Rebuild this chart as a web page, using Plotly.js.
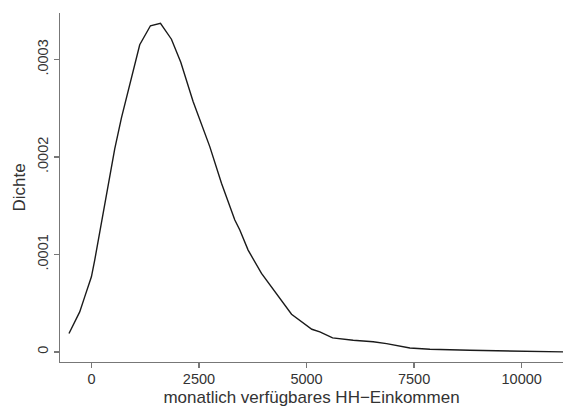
<!DOCTYPE html>
<html>
<head>
<meta charset="utf-8">
<script src="https://cdn.plot.ly/plotly-3.0.1.min.js"></script>
<style>html,body{margin:0;padding:0;background:#fff;}#chart{width:563px;height:407px;}</style>
</head>
<body>
<div id="chart"></div>
<script>
// monthly disposable household income (Euro) and kernel density
const income = [-521, -272, -156, 0, 77, 193, 286, 333, 502, 542, 698, 867, 1047, 1123, 1372, 1605, 1860, 2077, 2363, 2751, 3023, 3333, 3449, 3642, 3953, 4302, 4651, 5123, 5309, 5605, 6084, 6549, 6860, 7402, 7867, 8798, 9728, 11000];
const density = [0.0000189, 0.0000411, 0.0000565, 0.0000771, 0.0000942, 0.0001217, 0.0001456, 0.0001562, 0.000197, 0.0002083, 0.0002402, 0.00027, 0.0002998, 0.0003152, 0.0003347, 0.0003373, 0.0003209, 0.0002972, 0.0002571, 0.0002107, 0.0001731, 0.0001354, 0.0001251, 0.0001045, 0.0000806, 0.00006, 0.0000387, 0.0000233, 0.0000206, 0.0000144, 0.000012, 0.0000105, 0.0000086, 0.0000041, 0.0000028, 0.0000017, 0.0000007, 0.0000001];
const xTickVals = [0, 2500, 5000, 7500, 10000];
const xTickText = ["0", "2500", "5000", "7500", "10000"];
const yTickVals = [0, 0.0001, 0.0002, 0.0003];
const yTickText = ["0", ".0001", ".0002", ".0003"];

const fam = "Liberation Sans, Arial, sans-serif";
const tickFont = {family: fam, size: 14.5, color: "#333"};
const titleFont = {family: fam, size: 17, color: "#333"};

Plotly.newPlot("chart", [{
  x: income, y: density, type: "scatter", mode: "lines",
  line: {color: "#1a1a1a", width: 1.4}, hoverinfo: "skip"
}], {
  width: 563, height: 407,
  margin: {l: 60, r: 0, t: 13, b: 45, pad: 0},
  paper_bgcolor: "#fff", plot_bgcolor: "#fff",
  showlegend: false,
  font: tickFont,
  xaxis: {
    range: [-730, 10960], tickvals: xTickVals, ticktext: xTickText,
    showgrid: false, zeroline: false, showline: true, linecolor: "#777", linewidth: 1.3,
    ticks: "outside", ticklen: 5, tickwidth: 1.3, tickcolor: "#777",
    tickfont: tickFont, ticklabelstandoff: -2,
    title: {text: "monatlich verfügbares HH−Einkommen", font: titleFont, standoff: 8}
  },
  yaxis: {
    range: [-0.0000103, 0.0003478], tickvals: yTickVals, ticktext: yTickText, tickangle: -90,
    showgrid: false, zeroline: false, showline: true, linecolor: "#777", linewidth: 1.3,
    ticks: "outside", ticklen: 5, tickwidth: 1.3, tickcolor: "#777",
    tickfont: tickFont,
    title: {text: "Dichte", font: titleFont, standoff: 5}
  }
}, {staticPlot: true});
</script>
</body>
</html>
